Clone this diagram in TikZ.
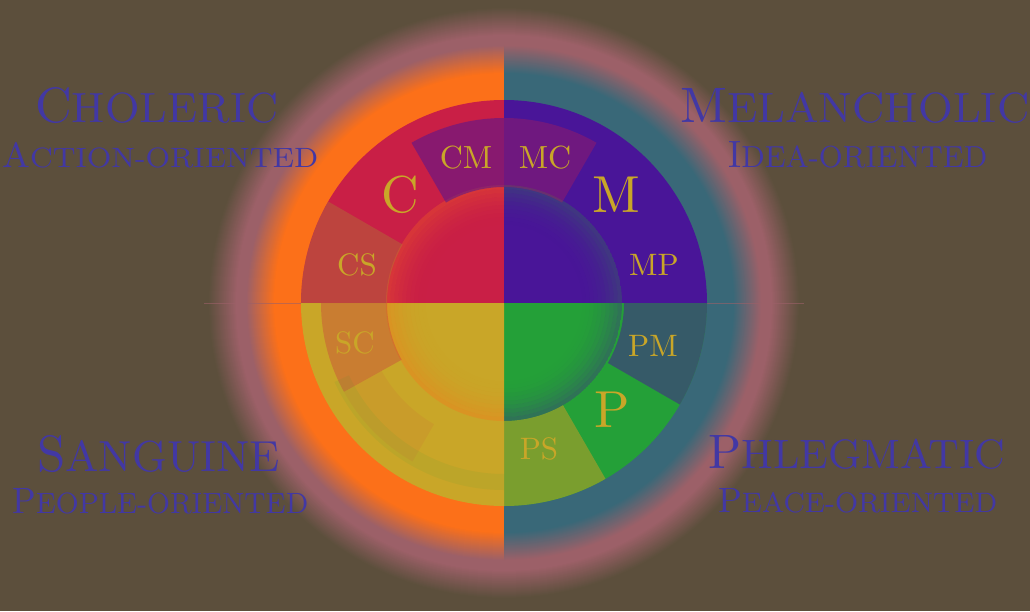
\documentclass[tikz,border=0pt]{standalone}
\usepackage{graphicx}
\definecolor{bg}{HTML}{5C4F3C}
\definecolor{glow}{HTML}{9C6068}
\definecolor{ringO}{HTML}{FC7019}
\definecolor{ringT}{HTML}{396878}
\definecolor{chol}{HTML}{C91F46}
\definecolor{mel}{HTML}{491598}
\definecolor{phl}{HTML}{24A038}
\definecolor{san}{HTML}{C9A628}
\definecolor{lbl}{HTML}{C9A628}
\definecolor{title}{HTML}{4238A4}
\begin{document}
\begin{tikzpicture}[x=1pt,y=1pt,
  asec/.style n args={4}{insert path={(#1:#3) arc[start angle=#1,end angle=#2,radius=#3] -- (#2:#4) arc[start angle=#2,end angle=#1,radius=#4] -- cycle}},
  ttl/.style={anchor=base west,inner sep=0pt,text=title},
  lab/.style={inner sep=0pt,text=lbl}]
\fill[bg] (-504,-308) rectangle (526,303);
\useasboundingbox (-504,-308) rectangle (526,303);
% outer glow
\foreach \r in {296,295,...,268}{\pgfmathtruncatemacro\p{(296-\r)*100/28}\fill[glow!\p!bg] (0,0) circle (\r);}
\foreach \r in {258,257,...,231}{\pgfmathtruncatemacro\p{(258-\r)*100/28}
  \fill[ringO!\p!glow] (0,\r) arc[start angle=90,end angle=270,radius=\r] -- cycle;
  \fill[ringT!\p!glow] (0,-\r) arc[start angle=-90,end angle=90,radius=\r] -- cycle;}
\fill[ringO] (0,230) arc[start angle=90,end angle=270,radius=230] -- cycle;
\fill[ringT] (0,-230) arc[start angle=-90,end angle=90,radius=230] -- cycle;
\draw[glow, opacity=.6, line width=.8pt] (-300,0) -- (300,0);
% quadrants
\fill[chol] (0,0) -- (90:203) arc[start angle=90,end angle=180,radius=203] -- cycle;
\fill[mel] (0,0) -- (0:203) arc[start angle=0,end angle=90,radius=203] -- cycle;
\fill[phl] (0,0) -- (-90:203) arc[start angle=-90,end angle=0,radius=203] -- cycle;
\fill[san] (0,0) -- (180:203) arc[start angle=180,end angle=270,radius=203] -- cycle;
% inner fading band
\foreach \a/\c/\m in {90/ringO/0.28, 0/phl/0.24, -90/mel/0.32, 180/ringO/0.32}{
  \begin{scope}
    \clip (0,0) -- (\a:118) arc[start angle=\a,end angle=\a+90,radius=118] -- cycle;
    \foreach \r in {78,82,...,114}{
      \pgfmathsetmacro\op{\m*((\r+4-78)/40)^2}
      \fill[\c, fill opacity=\op, even odd rule] (0,0) circle (\r+4) circle (\r);}
  \end{scope}}
% blend wedges
\path[fill=mel, fill opacity=.5, asec={90}{120}{185}{116}];
\path[fill=chol, fill opacity=.3, asec={60}{90}{185}{116}];
\path[fill=san!75!phl, fill opacity=.28, asec={150}{180}{203}{117}];
\path[fill=mel, fill opacity=.5, asec={-30}{0}{203}{120}];
\path[fill=san!85!ringO, fill opacity=.5, asec={-90}{-60}{203}{118}];
\path[fill=chol, fill opacity=.3, asec={180}{209}{183}{117}];
\path[fill=chol, fill opacity=.07, asec={209}{240}{183}{140}];
\path[fill=phl, fill opacity=.08, asec={205}{270}{187}{171}];
% inner labels
\node[lab] (lC) at (-104,108) {\scalebox{5.2}{\fontsize{10}{10}\selectfont C}};
\node[lab] (lM) at (112,108) {\scalebox{5.2}{\fontsize{10}{10}\selectfont M}};
\node[lab] (lP) at (108,-107) {\scalebox{5.2}{\fontsize{10}{10}\selectfont P}};
\node[lab] (lCM) at (-38,145) {\scalebox{3.2}{\fontsize{10}{10}\selectfont CM}};
\node[lab] (lMC) at (41,145) {\scalebox{3.2}{\fontsize{10}{10}\selectfont MC}};
\node[lab] (lMP) at (150,38) {\scalebox{3.1}{\fontsize{10}{10}\selectfont MP}};
\node[lab] (lCS) at (-147,38) {\scalebox{3.1}{\fontsize{10}{10}\selectfont CS}};
\node[lab] (lPM) at (149,-43) {\scalebox{3.1}{\fontsize{10}{10}\selectfont PM}};
\node[lab] (lPS) at (35,-146) {\scalebox{3.1}{\fontsize{10}{10}\selectfont PS}};
\node[lab] (lSC) at (-149,-40) {\scalebox{3.1}{\fontsize{10}{10}\selectfont SC}};
% titles
\node[ttl] (tC) at (-469,181) {\resizebox{243pt}{35pt}{\fontsize{10}{10}\selectfont C\fontsize{8.5}{8.5}\selectfont HOLERIC}};
\node[ttl] (sC) at (-502,136) {\resizebox{316pt}{25pt}{\fontsize{10}{10}\selectfont A\fontsize{8}{8}\selectfont CTION-ORIENTED}};
\node[ttl] (tM) at (176,181) {\resizebox{349pt}{34pt}{\fontsize{10}{10}\selectfont M\fontsize{8.5}{8.5}\selectfont ELANCHOLIC}};
\node[ttl] (sM) at (224,136) {\resizebox{259pt}{26pt}{\fontsize{10}{10}\selectfont I\fontsize{8}{8}\selectfont DEA-ORIENTED}};
\node[ttl] (tS) at (-467,-168) {\resizebox{243pt}{36pt}{\fontsize{10}{10}\selectfont S\fontsize{8.5}{8.5}\selectfont ANGUINE}};
\node[ttl] (sS) at (-492,-210) {\resizebox{296pt}{25pt}{\fontsize{10}{10}\selectfont P\fontsize{8}{8}\selectfont EOPLE-ORIENTED}};
\node[ttl] (tP) at (204,-165) {\resizebox{297pt}{33pt}{\fontsize{10}{10}\selectfont P\fontsize{8.5}{8.5}\selectfont HLEGMATIC}};
\node[ttl] (sP) at (214,-209) {\resizebox{279pt}{24pt}{\fontsize{10}{10}\selectfont P\fontsize{8}{8}\selectfont EACE-ORIENTED}};
\end{tikzpicture}
\end{document}
